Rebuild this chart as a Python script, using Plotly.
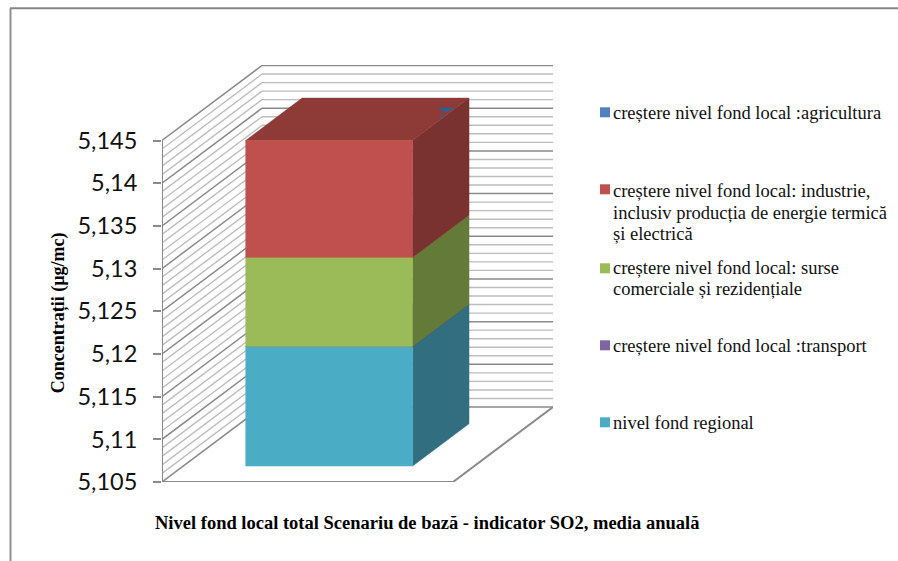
import plotly.graph_objects as go

W, H = 898, 561
# ---- data -------------------------------------------------------------
axis_min = 5.105
axis_max = 5.145
tick_values = [5.105, 5.11, 5.115, 5.12, 5.125, 5.13, 5.135, 5.14, 5.145]
tick_labels = ["5,105", "5,11", "5,115", "5,12", "5,125", "5,13", "5,135", "5,14", "5,145"]
minor_step_count = 40

regional = 5.1190
transport = 0.00001
commercial = 0.01043
industry = 0.01370
agriculture = 0.00001

x_title = "Nivel fond local total Scenariu de bază - indicator SO2, media anuală"
y_title = "Concentrații (µg/mc)"

# ---- geometry of the oblique view --------------------------------------
PX_X0, PX_X1, PX_BOTTOM, PX_TOP = 162.0, 553.0, 481.7, 64.7
PX_PER_VALUE = 8537.0
FLOOR_W = 291.0          # px, front edge of the floor
DEPTH_X, DEPTH_Y = 100.0, 75.0  # px, shift from front to back wall
DX = DEPTH_X / FLOOR_W
DY = DEPTH_Y / PX_PER_VALUE
x_range = [0, (PX_X1 - PX_X0) / FLOOR_W]
y_range = [axis_min, axis_min + (PX_BOTTOM - PX_TOP) / PX_PER_VALUE]
U0, U1 = 0.2144, 0.788   # bar edges along the category
D0, D1 = 0.2133, 0.777   # bar edges along the depth


def proj(u, d, v):
    return u + d * DX, v + d * DY


def poly(points):
    xy = [proj(*p) for p in points]
    xs = [a for a, _ in xy] + [xy[0][0]]
    ys = [b for _, b in xy] + [xy[0][1]]
    return xs, ys


def px(x):
    return (x - PX_X0) / (PX_X1 - PX_X0)


def py(y):
    return (PX_BOTTOM - y) / (PX_BOTTOM - PX_TOP)


MAJOR, MINOR = "#8a8a8a", "#bdbdbd"
fig = go.Figure()


def lines(segments, color, width):
    xs, ys = [], []
    for a, b in segments:
        pa, pb = proj(*a), proj(*b)
        xs += [pa[0], pb[0], None]
        ys += [pa[1], pb[1], None]
    fig.add_trace(go.Scatter(x=xs, y=ys, mode="lines", line=dict(color=color, width=width),
                             hoverinfo="skip", showlegend=False, cliponaxis=False))


levels = [axis_min + (axis_max - axis_min) * i / minor_step_count for i in range(minor_step_count + 1)]
minor_seg, major_seg = [], []
for i, v in enumerate(levels):
    seg = [((0, 0, v), (0, 1, v)), ((0, 1, v), (1, 1, v))]
    (major_seg if i % 5 == 0 else minor_seg).extend(seg)
lines(minor_seg, MINOR, 1.4)
lines(major_seg, MAJOR, 1.5)
# floor and front axis line
lines([((0, 0, axis_min), (1, 0, axis_min)), ((1, 0, axis_min), (1, 1, axis_min)),
       ((0, 0, axis_min), (0, 0, axis_max))], MAJOR, 2)

# ---- stacked bar -------------------------------------------------------
stack = [
    ("nivel fond regional", axis_min, regional, "#4BACC6", "#306E80", "#3A8296"),
    ("creștere nivel fond local :transport", regional, regional + transport, "#8064A2", "#4F3E66", "#5F4B7A"),
    ("creștere nivel fond local: surse comerciale și rezidențiale", regional + transport,
     regional + transport + commercial, "#9BBB59", "#647A38", "#748F42"),
    ("creștere nivel fond local: industrie", regional + transport + commercial,
     regional + transport + commercial + industry, "#C0504D", "#7A3230", "#8E3B38"),
]
for name, lo, hi, front, side, top in stack:
    for pts, col in (
        ([(U1, D0, lo), (U1, D1, lo), (U1, D1, hi), (U1, D0, hi)], side),
        ([(U0, D0, hi), (U1, D0, hi), (U1, D1, hi), (U0, D1, hi)], top),
        ([(U0, D0, lo), (U1, D0, lo), (U1, D0, hi), (U0, D0, hi)], front),
    ):
        xs, ys = poly(pts)
        fig.add_trace(go.Scatter(x=xs, y=ys, mode="lines", fill="toself", fillcolor=col,
                                 line=dict(color=col, width=0.5), name=name,
                                 hoverinfo="skip", showlegend=False))

# the near-zero agriculture layer only shows through as slivers on the top face
bar_top = regional + transport + commercial + industry
for pts in ([(0.726, 0.647, bar_top), (0.786, 0.647, bar_top), (0.772, 0.587, bar_top)],
            [(0.772, 0.547, bar_top), (0.785, 0.547, bar_top), (0.779, 0.507, bar_top)]):
    xs, ys = poly(pts)
    fig.add_trace(go.Scatter(x=xs, y=ys, mode="lines", fill="toself", fillcolor="#2F5F96",
                             line=dict(color="#2F5F96", width=0.3), name="agricultura",
                             hoverinfo="skip", showlegend=False))

# ---- legend ------------------------------------------------------------
legend = [
    ("#4F81BD", 112, [("creștere nivel fond local :agricultura", 112.5)]),
    ("#C0504D", 189, [("creștere nivel fond local: industrie,", 190.5),
                      ("inclusiv producția de energie termică", 212.5),
                      ("și electrică", 233.5)]),
    ("#9BBB59", 268, [("creștere nivel fond local: surse", 267.5),
                      ("comerciale și rezidențiale", 289)]),
    ("#8064A2", 345, [("creștere nivel fond local :transport", 345.5)]),
    ("#4BACC6", 422, [("nivel fond regional", 422.5)]),
]
shapes = [
    dict(type="line", xref="paper", yref="paper", x0=px(10.5), x1=px(10.5), y0=py(8), y1=py(561),
         line=dict(color="#8f8f8f", width=2)),
    dict(type="line", xref="paper", yref="paper", x0=px(10), x1=px(898), y0=py(8), y1=py(8),
         line=dict(color="#868686", width=2)),
]
annotations = []
for col, yc, rows in legend:
    shapes.append(dict(type="rect", xref="paper", yref="paper", x0=px(600), x1=px(610),
                       y0=py(yc + 5), y1=py(yc - 5), fillcolor=col, line=dict(width=0)))
    for text, yt in rows:
        annotations.append(dict(xref="paper", yref="paper", x=px(611), y=py(yt), xanchor="left", yanchor="middle",
                                align="left", showarrow=False, text=text,
                                font=dict(family="Liberation Serif", size=18.5, color="#111111")))
annotations.append(dict(xref="paper", yref="paper", x=px(58), y=py(312), xanchor="center", yanchor="middle",
                        textangle=-90, showarrow=False, text="<b>%s</b>" % y_title,
                        font=dict(family="Liberation Serif", size=18, color="#000000")))
annotations.append(dict(xref="paper", yref="paper", x=px(153), y=py(523), xanchor="left", yanchor="middle",
                        showarrow=False, text="<b>%s</b>" % x_title,
                        font=dict(family="Liberation Serif", size=18.5, color="#000000")))

fig.update_layout(
    width=W, height=H, autosize=False,
    margin=dict(l=PX_X0, r=W - PX_X1, t=PX_TOP, b=H - PX_BOTTOM, pad=0),
    paper_bgcolor="white", plot_bgcolor="white", showlegend=False,
    shapes=shapes, annotations=annotations,
    xaxis=dict(range=x_range, visible=False, fixedrange=True),
    yaxis=dict(range=y_range, tickmode="array", tickvals=tick_values, ticktext=tick_labels,
               showgrid=False, zeroline=False, showline=False, ticks="outside", ticklen=8, tickwidth=1.5,
               tickcolor=MAJOR, ticklabelstandoff=11, fixedrange=True,
               tickfont=dict(family="Lato", size=23.5, color="#111111")),
)
fig.write_html("out.html", config={"displayModeBar": False}, post_script="document.body.style.margin='0';")
